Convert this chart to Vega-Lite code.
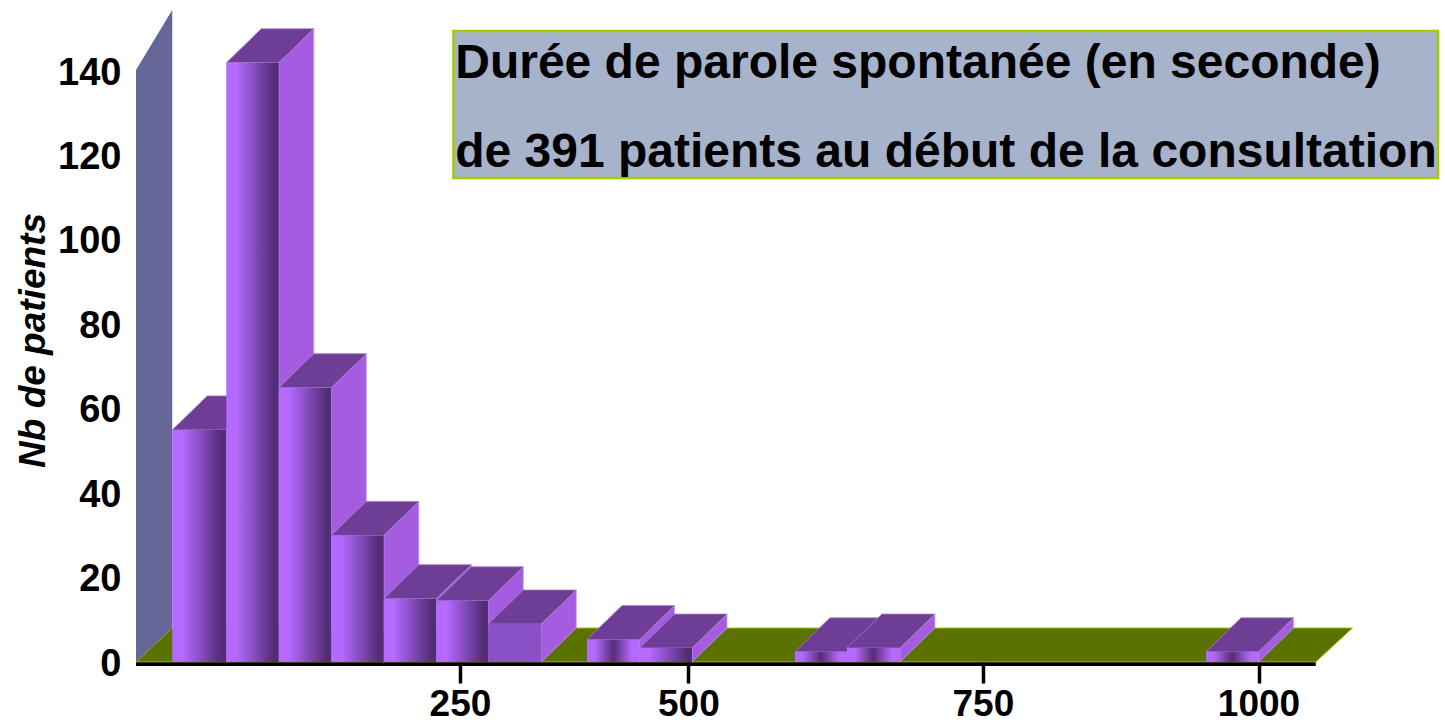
{
"$schema":"https://vega.github.io/schema/vega-lite/v6.json",
"width":1309,"height":662,
"autosize":"none",
"padding":{"left":136,"right":0,"top":0,"bottom":60},
"background":"white",
"config":{"view":{"stroke":null},"font":"Liberation Sans"},
"data":{"values":[
{"bin_start":0,"bin_end":1.03,"count":55},
{"bin_start":1.03,"bin_end":2.03,"count":142},
{"bin_start":2.03,"bin_end":3.03,"count":65},
{"bin_start":3.03,"bin_end":4.03,"count":30},
{"bin_start":4.03,"bin_end":5.03,"count":15},
{"bin_start":5.03,"bin_end":6.02,"count":14.5},
{"bin_start":6.02,"bin_end":7.03,"count":9},
{"bin_start":7.9,"bin_end":8.9,"count":5.3},
{"bin_start":8.9,"bin_end":9.9,"count":3.3},
{"bin_start":11.86,"bin_end":12.85,"count":2.4},
{"bin_start":12.85,"bin_end":13.86,"count":3.3},
{"bin_start":19.69,"bin_end":20.69,"count":2.4}
]},
"encoding":{
"x":{"field":"x","type":"quantitative","stack":null,"scale":{"domain":[-0.69,24.242],"zero":false,"nice":false},
 "axis":{"title":null,"grid":false,"domain":false,"values":[5.48,9.83,15.44,20.69],"labelExpr":"datum.value<6?'250':datum.value<10?'500':datum.value<16?'750':'1000'","tickColor":"black","tickWidth":3.5,"tickSize":21,"labelFont":"Liberation Sans","labelFontWeight":"bold","labelFontSize":37,"labelColor":"black","labelPadding":3,"labelFlush":false,"labelOverlap":false}},
"y":{"field":"y","type":"quantitative","stack":null,"scale":{"domain":[0,156.87],"zero":false,"nice":false},
 "axis":{"title":"Nb de patients","grid":false,"domain":false,"ticks":false,"values":[0,20,40,60,80,100,120,140],"labelFont":"Liberation Sans","labelFontWeight":"bold","labelFontSize":38,"labelColor":"black","labelPadding":15,"labelOffset":2,"labelOverlap":false,"labelFlush":false,"titleFont":"Liberation Sans","titleFontWeight":"bold","titleFontStyle":"italic","titleFontSize":37,"titleColor":"black","titleX":-84,"titleY":340,"titleAnchor":"middle","titleAlign":"center","titleAngle":-90}}
},
"layer":[
{"data":{"values":[{"t":0},{"t":1}]},
 "transform":[{"calculate":"-0.69+datum.t*0.69","as":"x"},{"calculate":"21.78+datum.t*0.7","as":"x2"},{"calculate":"datum.t*8.06","as":"y"}],
 "mark":{"type":"area","orient":"horizontal","color":"#5A7200","stroke":"#A0C800","strokeWidth":1},
 "encoding":{"x2":{"field":"x2"}}},
{"data":{"values":[{"t":0},{"t":1}]},
 "transform":[{"calculate":"-0.69+datum.t*0.69","as":"x"},{"calculate":"140.3+datum.t*14.2","as":"y"},{"calculate":"datum.t*8.06","as":"y2"}],
 "mark":{"type":"area","orient":"vertical","color":"#666699"},
 "encoding":{"y2":{"field":"y2"}}},
{"data":{"values":[{"x":-0.69,"x2":21.78,"y":-0.05,"y2":-0.95}]},
 "mark":{"type":"rect","color":"black"},
 "encoding":{"x2":{"field":"x2"},"y2":{"field":"y2"}}},
{"transform":[{"calculate":"[0,1]","as":"t"},{"flatten":["t"]},{"calculate":"datum.bin_end+datum.t*0.667","as":"x"},{"calculate":"datum.count+datum.t*8.06","as":"y"},{"calculate":"datum.t*8.06","as":"y2"}],
 "mark":{"type":"area","orient":"vertical","color":"#A55CE0","stroke":"#C79BF0","strokeWidth":0.8},
 "encoding":{"y2":{"field":"y2"},"detail":{"field":"bin_start","type":"nominal"}}},
{"transform":[{"calculate":"[0,1]","as":"t"},{"flatten":["t"]},{"calculate":"datum.bin_start+datum.t*0.667","as":"x"},{"calculate":"datum.bin_end+datum.t*0.667","as":"x2"},{"calculate":"datum.count+datum.t*8.06","as":"y"}],
 "mark":{"type":"area","orient":"horizontal","color":"#6E3D96","stroke":"#A77FC8","strokeWidth":0.8},
 "encoding":{"x2":{"field":"x2"},"detail":{"field":"bin_start","type":"nominal"}}},
{"transform":[{"filter":"datum.bin_start<6||datum.bin_start==8.9"},{"calculate":"datum.bin_start","as":"x"},{"calculate":"datum.count","as":"y"}],
 "mark":{"type":"rect","color":{"gradient":"linear","x1":0,"y1":0,"x2":1,"y2":0,"stops":[{"offset":0,"color":"#B469FF"},{"offset":0.2,"color":"#B469FF"},{"offset":0.9,"color":"#542D78"},{"offset":1,"color":"#542D78"}]}},
 "encoding":{"x2":{"field":"bin_end"},"y2":{"datum":0}}},
{"transform":[{"filter":"datum.bin_start==6.02"},{"calculate":"datum.bin_start","as":"x"},{"calculate":"datum.count","as":"y"}],
 "mark":{"type":"rect","color":"#8A50C6"},
 "encoding":{"x2":{"field":"bin_end"},"y2":{"datum":0}}},
{"transform":[{"filter":"datum.bin_start>7&&datum.bin_start!=8.9"},{"calculate":"datum.bin_start","as":"x"},{"calculate":"datum.count","as":"y"}],
 "mark":{"type":"rect","color":{"gradient":"linear","x1":0,"y1":0,"x2":1,"y2":0,"stops":[{"offset":0,"color":"#B469FF"},{"offset":0.15,"color":"#B469FF"},{"offset":0.5,"color":"#542D78"},{"offset":0.85,"color":"#B469FF"},{"offset":1,"color":"#B469FF"}]}},
 "encoding":{"x2":{"field":"bin_end"},"y2":{"datum":0}}},
{"data":{"values":[{"x":5.356,"x2":24.11,"y":149.5,"y2":114.7}]},
 "mark":{"type":"rect","fill":"#A6B3CA","stroke":"#A0CC00","strokeWidth":2.5},
 "encoding":{"x2":{"field":"x2"},"y2":{"field":"y2"}}},
{"data":{"values":[{"x":5.39,"y":138.3,"label":"Durée de parole spontanée (en seconde)"},{"x":5.39,"y":117.4,"label":"de 391 patients au début de la consultation"}]},
 "mark":{"type":"text","align":"left","baseline":"alphabetic","font":"Liberation Sans","fontWeight":"bold","fontSize":48,"color":"black"},
 "encoding":{"text":{"field":"label","type":"nominal"}}}
]
}
